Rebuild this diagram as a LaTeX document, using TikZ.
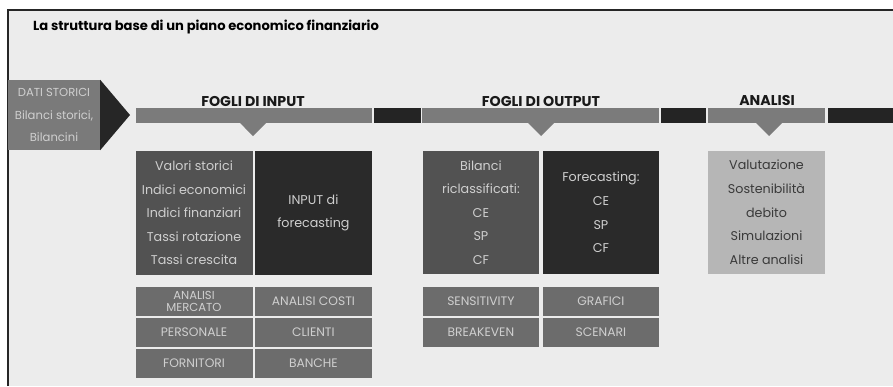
\documentclass[tikz,border=0pt]{standalone}
\usepackage{fontspec}
\setmainfont{Poppins}
\usetikzlibrary{calc}
\definecolor{bgc}{HTML}{ECECEC}
\definecolor{datic}{HTML}{7A7A7A}
\definecolor{chevc}{HTML}{262626}
\definecolor{graybarc}{HTML}{7B7B7B}
\definecolor{blackbarc}{HTML}{242424}
\definecolor{midc}{HTML}{525252}
\definecolor{darkc}{HTML}{2A2A2A}
\definecolor{smallc}{HTML}{6C6C6C}
\definecolor{lightc}{HTML}{B6B6B6}
\definecolor{boxtextc}{HTML}{CFCFCF}
\definecolor{analtextc}{HTML}{3A3A3A}
\begin{document}
\begin{tikzpicture}[x=1pt,y=-1pt,
  title/.style={font=\bfseries\fontsize{13.1}{16}\selectfont, text=black, inner sep=0pt},
  header/.style={font=\bfseries\fontsize{14.2}{16}\selectfont, text=black!90, inner sep=0pt},
  bar/.style={inner sep=0pt, minimum height=15},
  graybar/.style={bar, fill=graybarc},
  blackbar/.style={bar, fill=blackbarc},
  bigbox/.style={inner sep=0pt, minimum width=117, minimum height=124, align=center, text=boxtextc,
    font=\fontsize{12.7}{23.6}\selectfont},
  smallbox/.style={inner sep=0pt, minimum width=117, minimum height=29, align=center, text=boxtextc,
    fill=smallc, font=\fontsize{12.3}{10.5}\selectfont},
]
\useasboundingbox (0,0) rectangle (893,386);
\fill[white] (0,0) rectangle (893,386);
\fill[bgc] (8,10) rectangle (893,386);
\draw[line width=1.2pt, black!85] (8,386) -- (8,10) -- (893,10);

\node[title] (title) at (206,27) {La struttura base di un piano economico finanziario};

% DATI STORICI
\node[fill=datic, inner sep=0pt, minimum width=92, minimum height=70, align=center, text=boxtextc,
  font=\fontsize{11.6}{22.5}\selectfont] (dati) at (54,115) {DATI STORICI\\Bilanci storici,\\Bilancini};
\coordinate (chevtip) at (130,115);
\fill[chevc] (dati.north east) -- (chevtip) -- (dati.south east) -- cycle;

% bars
\node[graybar, minimum width=236] (barin) at (254,115.5) {};
\node[blackbar, minimum width=47] (blk1) at (397.5,115.5) {};
\node[graybar, minimum width=237] (barout) at (540.5,115.5) {};
\node[blackbar, minimum width=45] (blk2) at (683.5,115.5) {};
\node[graybar, minimum width=117] (baran) at (766.5,115.5) {};
\node[blackbar, minimum width=65] (blk3) at (860.5,115.5) {};

\foreach \b/\cx in {barin/253, barout/541, baran/769}{
  \fill[graybarc] (\cx-13,123) -- (\cx,136) -- (\cx+13,123) -- cycle;
}

% headers
\node[header] (hin) at (253,101) {FOGLI DI INPUT};
\node[header] (hout) at (541,101) {FOGLI DI OUTPUT};
\node[header] (han) at (767,100) {ANALISI};

% input
\node[bigbox, fill=midc] (valori) at (194,213) {Valori storici\\Indici economici\\Indici finanziari\\Tassi rotazione\\Tassi crescita};
\node[bigbox, fill=darkc] (inputf) at (313.4,213) {INPUT di\\forecasting};
\node[smallbox, font=\fontsize{11.6}{11.6}\selectfont] (mercato) at (194,301.2) {ANALISI\\MERCATO};
\node[smallbox] (costi) at (313.4,301.2) {ANALISI COSTI};
\node[smallbox] (personale) at (194,332.4) {PERSONALE};
\node[smallbox] (clienti) at (313.4,332.4) {CLIENTI};
\node[smallbox] (fornitori) at (194,363.5) {FORNITORI};
\node[smallbox] (banche) at (313.4,363.5) {BANCHE};

% output
\node[bigbox, fill=midc, minimum width=116.3, minimum height=123.3] (bilanci) at (480.9,212.4) {Bilanci\\riclassificati:\\CE\\SP\\CF};
\node[bigbox, fill=darkc, minimum width=116.3, minimum height=123.3] (forec) at (600.9,212.4) {Forecasting:\\CE\\SP\\CF};
\node[smallbox, minimum width=116.3] (sens) at (480.9,301.3) {SENSITIVITY};
\node[smallbox, minimum width=116.3] (grafici) at (600.9,301.3) {GRAFICI};
\node[smallbox, minimum width=116.3] (breakeven) at (480.9,332.5) {BREAKEVEN};
\node[smallbox, minimum width=116.3] (scenari) at (600.9,332.5) {SCENARI};

% analisi
\node[bigbox, fill=lightc, text=analtextc, minimum height=123.3] (analisi) at (766.5,212.4) {Valutazione\\Sostenibilità\\debito\\Simulazioni\\Altre analisi};
\end{tikzpicture}
\end{document}
